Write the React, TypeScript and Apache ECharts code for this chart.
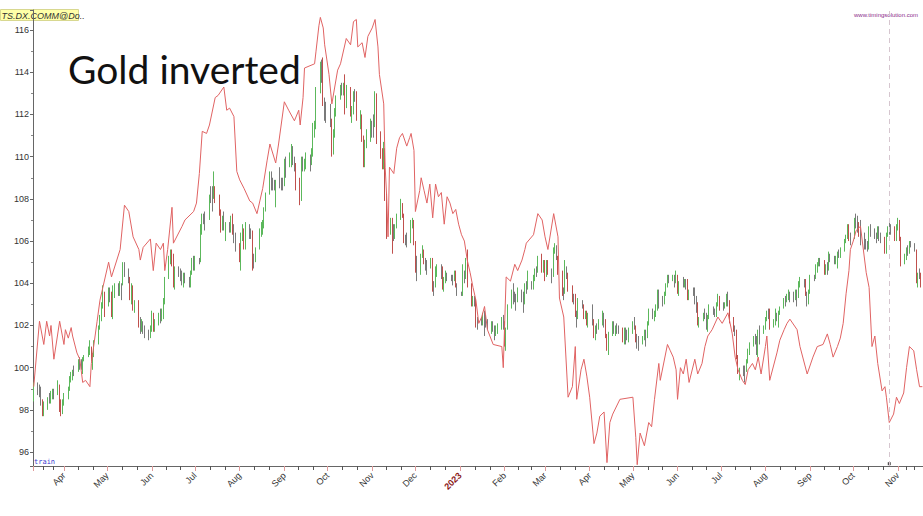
import React, { useEffect, useRef } from "react";
import * as echarts from "echarts";

// First trading day shown; bars follow on consecutive weekdays
const firstTradingDay = "2022-03-10";

// DX futures daily bars: [open, close, low, high], one row per week (Mon..Fri)
const dxyOHLC: number[][] = [
  [98.0,98.5,97.8,98.7],[98.5,99.1,98.4,99.3],
  [99.1,99.0,98.7,99.3],[99.0,98.8,98.6,99.2],[98.8,98.4,98.2,99.1],[98.4,97.8,97.7,98.5],[97.8,98.2,97.7,98.4],
  [98.2,98.5,98.0,98.6],[98.5,98.5,98.3,98.8],[98.5,98.6,98.3,98.9],[98.6,98.8,98.5,99.0],[98.8,98.8,98.5,99.0],
  [98.8,99.0,98.7,99.4],[99.0,98.4,97.9,99.2],[98.4,97.8,97.7,98.5],[97.8,98.3,97.8,98.5],[98.3,98.6,98.2,98.8],
  [98.6,99.0,98.5,99.1],[99.0,99.5,98.9,99.6],[99.5,99.6,99.3,99.8],[99.6,99.8,99.4,99.9],[99.8,99.8,99.6,100.1],
  [99.8,100.3,99.8,100.4],[100.3,100.3,99.9,100.5],[100.3,100.0,99.9,100.4],[100.0,100.4,99.7,100.5],[100.4,100.5,100.3,100.6],
  [100.5,100.9,100.5,101.0],[100.9,101.0,100.6,101.3],[101.0,100.4,100.3,101.0],[100.4,100.6,99.9,100.7],[100.6,101.1,100.5,101.3],
  [101.1,101.8,101.1,102.0],[101.8,102.3,101.8,102.5],[102.3,102.9,102.2,103.1],[102.9,103.6,102.8,103.9],[103.6,103.0,102.4,103.6],
  [103.0,103.7,102.9,103.8],[103.7,103.5,103.1,103.8],[103.5,102.5,102.4,103.6],[102.5,103.6,102.3,103.9],[103.6,103.7,103.3,104.0],
  [103.7,103.7,103.4,104.0],[103.7,103.9,103.4,104.1],[103.9,103.9,103.2,104.0],[103.9,104.8,103.9,105.0],[104.8,104.6,104.3,105.0],
  [104.6,104.2,104.0,104.7],[104.2,103.3,103.2,104.3],[103.3,103.8,103.0,104.0],[103.8,102.8,102.7,103.9],[102.8,103.1,102.6,103.2],
  [103.1,102.1,101.9,103.2],[102.1,101.9,101.6,102.4],[101.9,102.1,101.7,102.3],[102.1,101.8,101.6,102.2],[101.8,101.7,101.4,102.0],
  [101.7,101.5,101.3,101.8],[101.5,101.8,101.4,102.0],[101.8,102.5,101.7,102.7],[102.5,101.8,101.7,102.6],[101.8,102.1,101.7,102.3],
  [102.1,102.4,102.0,102.6],[102.4,102.3,102.1,102.8],[102.3,102.6,102.2,102.8],[102.6,103.2,102.3,103.3],[103.2,104.2,103.0,104.3],
  [104.2,105.1,104.2,105.3],[105.1,105.5,104.9,105.6],[105.5,105.0,104.8,105.6],[105.0,103.9,103.8,105.4],[103.9,104.6,103.7,104.8],
  [104.6,104.5,104.3,104.8],[104.5,104.4,104.1,104.7],[104.4,104.2,103.9,104.6],[104.2,104.4,103.8,104.5],[104.4,104.2,104.0,104.5],
  [104.2,103.9,103.8,104.3],[103.9,104.5,103.8,104.6],[104.5,105.1,104.4,105.2],[105.1,104.7,104.6,105.3],[104.7,105.1,104.6,105.3],
  [105.1,105.1,104.9,105.2],[105.1,106.5,105.0,106.8],[106.5,107.0,106.3,107.3],[107.0,107.0,106.8,107.3],[107.0,107.0,106.5,107.4],
  [107.0,108.1,107.0,108.2],[108.1,108.1,107.8,108.6],[108.1,108.0,107.4,108.6],[108.0,108.6,108.0,109.3],[108.6,108.0,107.8,108.6],
  [108.0,107.4,107.2,108.2],[107.4,106.7,106.4,107.5],[106.7,107.0,106.5,107.2],[107.0,106.6,106.5,107.4],[106.6,106.7,106.0,106.9],
  [106.7,106.5,106.4,106.9],[106.5,107.0,106.4,107.2],[107.0,106.4,106.3,107.3],[106.4,106.2,105.9,106.8],[106.2,105.9,105.5,106.4],
  [105.9,105.3,105.0,105.9],[105.3,106.3,104.6,106.4],[106.3,106.5,106.0,106.8],[106.5,105.7,105.6,106.6],[105.7,106.6,105.6,106.9],
  [106.6,106.4,106.1,106.8],[106.4,106.4,106.1,106.6],[106.4,105.2,104.6,106.5],[105.2,105.1,104.7,105.4],[105.1,105.6,105.0,105.7],
  [105.6,106.5,105.6,106.6],[106.5,106.6,106.2,106.9],[106.6,106.7,106.3,107.0],[106.7,107.5,106.6,107.6],[107.5,108.2,107.4,108.3],
  [108.2,109.0,108.2,109.3],[109.0,108.6,108.4,109.3],[108.6,108.6,108.4,109.0],[108.6,108.5,108.4,108.9],[108.5,108.8,107.6,108.9],
  [108.8,108.8,108.5,109.5],[108.8,108.8,108.4,109.0],[108.8,108.7,108.4,109.0],[108.7,109.7,108.6,109.9],[109.7,109.6,109.0,110.0],
  [109.6,109.9,109.5,110.2],[109.9,110.2,109.5,110.6],[110.2,109.8,109.6,110.5],[109.8,109.7,109.3,110.0],[109.7,109.0,108.4,109.7],
  [109.0,108.3,107.7,109.0],[108.3,109.8,107.9,110.0],[109.8,109.6,109.3,110.0],[109.6,109.7,109.3,109.9],[109.7,109.8,109.4,110.2],
  [109.8,109.6,109.3,110.1],[109.6,110.2,109.6,110.4],[110.2,111.2,110.0,111.6],[111.2,111.4,110.9,111.7],[111.4,113.2,111.3,113.3],
  [113.2,114.1,113.0,114.5],[114.1,114.1,113.5,114.6],[114.1,112.6,112.4,114.7],[112.6,112.2,111.7,112.8],[112.2,112.1,111.6,112.6],
  [112.1,111.7,111.4,112.5],[111.7,110.2,110.0,111.8],[110.2,111.1,110.1,111.3],[111.1,112.2,110.9,112.3],[112.2,112.8,111.9,112.9],
  [112.8,113.2,112.7,113.4],[113.2,113.2,112.9,113.5],[113.2,113.3,112.9,113.5],[113.3,112.4,112.0,113.9],[112.4,113.3,112.3,113.4],
  [113.3,112.0,111.9,113.3],[112.0,112.1,111.6,112.4],[112.1,113.0,112.0,113.1],[113.0,112.9,112.6,113.2],[112.9,111.9,111.7,113.1],
  [111.9,112.0,111.3,112.2],[112.0,110.9,110.7,112.0],[110.9,109.7,109.5,111.0],[109.7,110.6,109.5,110.8],[110.6,110.7,110.4,111.3],
  [110.7,111.5,110.7,111.8],[111.5,111.4,110.9,111.7],[111.4,111.4,110.9,112.0],[111.4,112.9,111.4,113.1],[112.9,110.8,110.6,113.0],
  [110.8,110.2,109.9,111.2],[110.2,109.6,109.4,110.4],[109.6,110.4,109.4,110.7],[110.4,108.2,107.9,110.4],[108.2,106.3,106.1,108.3],
  [106.3,106.9,106.3,107.1],[106.9,106.4,105.4,107.1],[106.4,106.3,106.0,106.8],[106.3,106.7,106.1,106.8],[106.7,107.0,106.6,107.3],
  [107.0,107.8,107.0,108.0],[107.8,107.2,107.1,107.8],[107.2,106.1,105.9,107.3],[106.1,106.0,105.8,106.3],[106.0,106.0,105.7,106.4],
  [106.0,106.6,105.9,107.0],[106.6,106.8,106.6,107.1],[106.8,105.9,105.8,107.0],[105.9,104.7,104.5,106.0],[104.7,104.5,104.1,105.3],
  [104.5,105.3,104.4,105.4],[105.3,105.6,105.2,105.8],[105.6,105.1,104.9,105.6],[105.1,104.8,104.6,105.2],[104.8,104.8,104.4,105.1],
  [104.8,105.1,104.7,105.2],[105.1,104.0,103.6,105.2],[104.0,103.8,103.4,104.1],[103.8,104.5,103.8,104.8],[104.5,104.7,104.3,104.9],
  [104.7,104.7,104.2,104.9],[104.7,103.7,103.7,104.8],[103.7,104.2,103.6,104.3],[104.2,104.4,104.0,104.6],[104.4,104.3,104.1,104.5],
  [104.3,104.3,104.1,104.4],[104.3,104.2,103.9,104.4],[104.2,104.5,104.1,104.6],[104.5,103.9,103.8,104.6],[103.9,103.5,103.4,104.0],
  [103.5,103.5,103.4,103.6],[103.5,104.5,103.4,104.9],[104.5,104.3,104.0,104.6],[104.3,105.1,104.2,105.2],[105.1,103.9,103.8,105.6],
  [103.9,103.0,102.9,104.0],[103.0,103.2,102.9,103.4],[103.2,103.2,102.9,103.4],[103.2,102.2,101.9,103.3],[102.2,102.2,101.8,102.4],
  [102.2,102.2,102.0,102.4],[102.2,102.4,102.0,102.6],[102.4,102.4,101.5,102.7],[102.4,102.1,101.9,102.5],[102.1,101.9,101.8,102.3],
  [101.9,102.1,101.6,102.2],[102.1,101.9,101.7,102.2],[101.9,101.6,101.3,102.0],[101.6,101.8,101.5,102.0],[101.8,101.9,101.6,102.1],
  [101.9,102.3,101.8,102.4],[102.3,102.1,101.8,102.5],[102.1,101.2,101.0,102.2],[101.2,101.8,100.8,101.9],[101.8,102.9,101.8,103.0],
  [102.9,103.6,102.8,103.7],[103.6,103.4,103.0,104.0],[103.4,103.4,103.1,103.6],[103.4,103.2,102.7,103.5],[103.2,103.6,103.1,103.8],
  [103.6,103.2,103.1,103.7],[103.2,103.2,102.6,103.6],[103.2,103.9,103.0,104.0],[103.9,103.8,103.5,104.1],[103.8,103.9,103.7,104.6],
  [103.9,103.9,103.7,104.1],[103.9,104.2,103.7,104.4],[104.2,104.6,104.1,104.7],[104.6,104.6,104.3,104.8],[104.6,105.2,104.5,105.3],
  [105.2,104.7,104.5,105.4],[104.7,104.9,104.5,105.1],[104.9,104.4,104.1,105.1],[104.4,105.0,104.3,105.1],[105.0,104.5,104.4,105.1],
  [104.5,104.3,104.0,104.7],[104.3,105.6,104.3,105.7],[105.6,105.7,105.4,105.9],[105.7,105.3,105.1,105.8],[105.3,104.6,104.4,105.3],
  [104.6,103.6,103.4,104.6],[103.6,103.6,103.2,103.8],[103.6,104.6,103.5,105.1],[104.6,104.4,104.2,104.8],[104.4,103.9,103.6,104.5],
  [103.9,103.3,103.1,103.9],[103.3,103.3,103.0,103.5],[103.3,102.5,102.4,103.5],[102.5,102.5,101.9,102.7],[102.5,103.1,102.3,103.3],
  [103.1,102.9,102.8,103.2],[102.9,102.4,102.3,103.0],[102.4,102.6,102.3,102.7],[102.6,102.1,102.0,102.7],[102.1,102.5,101.9,102.6],
  [102.5,102.2,102.0,103.0],[102.2,101.6,101.4,102.3],[101.6,101.9,101.3,102.0],[101.9,101.9,101.6,102.1],[101.9,102.1,101.8,102.3],
  [102.1,102.5,102.0,102.7],[102.5,102.2,101.9,102.6],[102.2,101.5,101.4,102.3],[101.5,101.0,100.8,101.6],[101.0,101.6,100.6,101.7],
  [101.6,102.1,101.5,102.2],[102.1,101.7,101.6,102.2],[101.7,101.9,101.5,102.0],[101.9,101.9,101.6,102.1],[101.9,101.8,101.6,102.0],
  [101.8,101.3,101.2,101.9],[101.3,101.8,101.1,101.9],[101.8,101.5,101.1,101.9],[101.5,101.5,101.3,101.8],[101.5,101.7,101.2,101.9],
  [101.7,102.1,101.6,102.2],[102.1,102.0,101.8,102.4],[102.0,101.4,101.2,102.0],[101.4,101.4,100.9,101.6],[101.4,101.2,100.8,101.5],
  [101.2,101.4,101.1,101.5],[101.4,101.6,101.3,101.8],[101.6,101.5,101.0,101.8],[101.5,102.1,101.4,102.2],[102.1,102.7,102.0,102.8],
  [102.7,102.4,102.3,102.8],[102.4,102.6,102.2,102.7],[102.6,102.9,102.4,103.0],[102.9,103.6,102.7,103.7],[103.6,103.2,102.8,103.7],
  [103.2,103.2,102.9,103.4],[103.2,103.5,103.0,103.6],[103.5,103.9,103.4,104.0],[103.9,104.3,103.8,104.4],[104.3,104.2,104.0,104.4],
  [104.2,104.3,104.1,104.4],[104.3,104.1,103.8,104.4],[104.1,104.3,104.0,104.6],[104.3,103.6,103.5,104.4],[103.6,104.0,103.4,104.1],
  [104.0,104.0,103.8,104.3],[104.0,104.1,103.8,104.2],[104.1,104.1,103.7,104.2],[104.1,103.3,103.2,104.2],[103.3,103.6,103.2,103.7],
  [103.6,103.6,103.4,103.8],[103.6,103.3,103.0,103.8],[103.3,103.0,102.6,103.4],[103.0,102.1,102.0,103.1],[102.1,102.3,101.9,102.4],
  [102.3,102.5,102.2,102.6],[102.5,102.5,102.3,102.8],[102.5,102.1,101.8,102.6],[102.1,102.4,101.7,102.5],[102.4,102.9,102.3,103.0],
  [102.9,102.7,102.5,102.9],[102.7,102.5,102.4,102.8],[102.5,103.0,102.4,103.1],[103.0,103.4,102.9,103.5],[103.4,102.9,102.7,103.4],
  [102.9,102.9,102.7,103.1],[102.9,103.0,102.8,103.1],[103.0,103.4,102.9,103.5],[103.4,103.1,102.9,103.6],[103.1,102.3,102.1,103.2],
  [102.3,101.8,101.7,102.4],[101.8,101.7,101.5,102.0],[101.7,100.5,100.4,101.8],[100.5,99.8,99.7,100.6],[99.8,99.9,99.4,100.0],
  [99.9,99.9,99.6,100.1],[99.9,99.9,99.3,100.1],[99.9,100.3,99.8,100.4],[100.3,100.8,100.2,100.9],[100.8,101.1,100.6,101.2],
  [101.1,101.4,101.0,101.5],[101.4,101.3,101.1,101.6],[101.3,100.9,100.6,101.5],[100.9,101.8,100.5,101.8],[101.8,101.7,101.1,102.0],
  [101.7,101.9,101.6,102.0],[101.9,102.3,101.8,102.4],[102.3,102.6,102.2,102.7],[102.6,102.6,102.3,102.8],[102.6,102.0,101.8,102.8],
  [102.0,102.1,101.9,102.3],[102.1,102.5,102.0,102.8],[102.5,102.5,102.2,102.6],[102.5,102.6,101.9,102.7],[102.6,102.8,102.5,102.9],
  [102.8,103.2,102.8,103.3],[103.2,103.2,102.9,103.4],[103.2,103.4,103.1,103.5],[103.4,103.6,103.2,103.7],[103.6,103.4,103.1,103.6],
  [103.4,103.3,103.1,103.6],[103.3,103.5,103.2,103.7],[103.5,103.4,102.9,103.7],[103.4,104.0,103.3,104.1],[104.0,104.1,103.8,104.3],
  [104.1,104.0,103.8,104.2],[104.0,103.5,103.4,104.2],[103.5,103.1,102.9,103.6],[103.1,103.6,103.0,103.7],[103.6,104.3,103.5,104.4],
  [104.3,104.2,104.1,104.4],[104.2,104.8,104.2,104.9],[104.8,104.9,104.5,105.0],[104.9,105.1,104.8,105.2],[105.1,105.1,104.8,105.2],
  [105.1,104.6,104.4,105.1],[104.6,104.7,104.4,104.9],[104.7,104.7,104.4,105.0],[104.7,105.4,104.6,105.5],[105.4,105.3,105.0,105.4],
  [105.3,105.1,104.9,105.3],[105.1,105.2,104.9,105.3],[105.2,105.4,104.7,105.5],[105.4,105.4,105.2,105.6],[105.4,105.6,105.2,105.7],
  [105.6,106.0,105.5,106.1],[106.0,106.2,105.9,106.3],[106.2,106.7,106.1,106.8],[106.7,106.2,106.0,106.8],[106.2,106.2,105.8,106.4],
  [106.2,107.0,106.1,107.1],[107.0,107.0,106.6,107.3],[107.0,106.8,106.4,107.2],[106.8,106.3,106.2,106.9],[106.3,106.0,105.8,107.0],
  [106.0,106.0,105.6,106.4],[106.0,105.8,105.6,106.1],[105.8,105.7,105.5,106.0],[105.7,106.6,105.6,106.7],[106.6,106.6,106.2,106.8],
  [106.6,106.2,106.1,106.6],[106.2,106.2,105.9,106.4],[106.2,106.6,106.1,106.7],[106.6,106.2,106.0,106.7],[106.2,106.2,105.9,106.4],
  [106.2,105.5,105.4,106.2],[105.5,106.3,105.4,106.4],[106.3,106.6,106.2,106.7],[106.6,106.6,106.3,106.9],[106.6,106.6,106.3,106.8],
  [106.6,106.1,106.0,106.7],[106.1,106.7,106.0,106.8],[106.7,106.9,106.5,107.1],[106.9,106.2,106.0,107.0],[106.2,105.0,104.8,106.2],
  [105.0,105.2,104.9,105.4],[105.2,105.6,105.1,105.7],[105.6,105.5,105.3,105.8],[105.5,105.9,105.4,106.0],[105.9,105.9,105.7,106.0],
  [105.9,105.6,105.5,105.9],[105.6,104.1,104.0,105.6],[104.1,104.4,103.8,104.5],[104.4,104.4,104.2,104.7],[104.4,103.9,103.8,104.5],
];

// Gold price, inverted and rescaled onto the dollar-index scale
const goldInverted: [string, number][] = [
  ["2022-03-11",99.1],["2022-03-15",102.2],["2022-03-18",101.1],["2022-03-20",102.2],["2022-03-22",101.5],["2022-03-23",102.0],["2022-03-25",100.4],["2022-03-29",102.2],
  ["2022-04-01",101.1],["2022-04-02",101.8],["2022-04-04",101.4],["2022-04-06",101.9],["2022-04-07",101.5],["2022-04-10",100.7],["2022-04-12",100.4],["2022-04-14",99.3],["2022-04-16",99.4],["2022-04-19",99.1],["2022-04-20",100.2],["2022-04-24",102.2],["2022-04-26",103.2],["2022-04-28",103.8],
  ["2022-05-02",105.0],["2022-05-04",104.3],["2022-05-10",105.6],["2022-05-13",107.7],["2022-05-16",107.4],["2022-05-19",106.2],["2022-05-23",105.6],["2022-05-24",105.1],["2022-05-26",105.7],["2022-05-31",106.1],
  ["2022-06-02",104.6],["2022-06-04",105.9],["2022-06-07",105.6],["2022-06-09",105.9],["2022-06-10",104.6],["2022-06-12",105.6],["2022-06-15",107.6],["2022-06-16",105.9],["2022-06-22",106.7],["2022-06-24",107.0],["2022-06-30",107.4],
  ["2022-07-02",107.8],["2022-07-04",109.2],["2022-07-06",111.2],["2022-07-09",111.1],["2022-07-11",111.5],["2022-07-15",112.8],["2022-07-17",112.9],["2022-07-21",113.3],["2022-07-23",112.2],["2022-07-25",112.3],["2022-07-28",111.9],["2022-07-30",109.3],
  ["2022-08-01",108.9],["2022-08-04",108.5],["2022-08-08",107.9],["2022-08-10",107.8],["2022-08-13",107.3],["2022-08-15",107.9],["2022-08-17",108.5],["2022-08-20",109.8],["2022-08-22",110.6],["2022-08-26",109.7],["2022-08-28",110.6],
  ["2022-09-01",112.6],["2022-09-04",112.2],["2022-09-08",111.7],["2022-09-11",112.2],["2022-09-12",111.5],["2022-09-14",112.8],["2022-09-15",114.2],["2022-09-22",114.4],["2022-09-23",115.0],["2022-09-25",116.2],["2022-09-26",116.6],["2022-09-28",116.1],["2022-09-29",115.3],
  ["2022-10-02",113.9],["2022-10-04",112.5],["2022-10-06",113.3],["2022-10-08",114.1],["2022-10-10",114.4],["2022-10-14",115.6],["2022-10-17",115.3],["2022-10-19",116.4],["2022-10-21",116.5],["2022-10-22",115.2],["2022-10-25",115.4],["2022-10-27",114.7],["2022-10-29",115.7],
  ["2022-11-01",116.1],["2022-11-03",116.5],["2022-11-05",115.2],["2022-11-06",113.9],["2022-11-09",112.5],["2022-11-10",109.5],["2022-11-11",108.2],["2022-11-12",106.2],["2022-11-13",109.5],["2022-11-16",109.2],["2022-11-18",110.4],["2022-11-20",110.9],["2022-11-22",111.1],["2022-11-25",110.5],["2022-11-27",110.9],["2022-11-28",111.1],["2022-11-30",110.3],
  ["2022-12-01",107.4],["2022-12-04",108.4],["2022-12-05",109.0],["2022-12-07",108.4],["2022-12-09",107.8],["2022-12-11",108.7],["2022-12-13",107.1],["2022-12-15",108.7],["2022-12-17",108.1],["2022-12-19",108.3],["2022-12-21",106.8],["2022-12-23",108.1],["2022-12-25",107.8],["2022-12-27",107.3],["2022-12-29",107.5],["2022-12-31",106.8],
  ["2023-01-02",106.3],["2023-01-04",106.0],["2023-01-06",105.1],["2023-01-08",104.5],["2023-01-10",103.8],["2023-01-12",103.2],["2023-01-14",102.1],["2023-01-16",102.4],["2023-01-18",102.9],["2023-01-20",101.8],["2023-01-24",101.1],["2023-01-30",101.0],["2023-01-31",100.0],
  ["2023-02-02",104.3],["2023-02-05",104.1],["2023-02-08",104.9],["2023-02-10",104.6],["2023-02-13",105.1],["2023-02-15",105.6],["2023-02-16",105.9],["2023-02-21",106.3],["2023-02-24",107.3],["2023-02-27",107.0],
  ["2023-03-01",106.2],["2023-03-03",105.6],["2023-03-07",107.3],["2023-03-10",106.2],["2023-03-11",103.3],["2023-03-14",102.4],["2023-03-17",98.6],["2023-03-20",99.1],["2023-03-22",101.0],["2023-03-23",98.5],["2023-03-26",99.9],["2023-03-28",100.4],["2023-03-30",99.6],
  ["2023-04-01",98.6],["2023-04-04",96.4],["2023-04-06",96.9],["2023-04-08",97.7],["2023-04-11",97.9],["2023-04-13",95.5],["2023-04-15",97.4],["2023-04-17",97.8],["2023-04-22",98.5],
  ["2023-05-01",98.6],["2023-05-03",96.7],["2023-05-04",95.4],["2023-05-06",96.9],["2023-05-09",96.3],["2023-05-12",97.4],["2023-05-14",97.2],["2023-05-16",98.5],["2023-05-19",100.2],["2023-05-20",99.4],["2023-05-25",101.1],["2023-05-27",100.8],["2023-05-29",100.5],["2023-05-31",99.9],
  ["2023-06-01",98.5],["2023-06-03",100.0],["2023-06-05",99.7],["2023-06-07",100.4],["2023-06-09",99.3],["2023-06-13",100.4],["2023-06-15",99.7],["2023-06-18",100.2],["2023-06-20",101.0],["2023-06-22",101.5],["2023-06-25",101.8],["2023-06-29",102.4],
  ["2023-07-02",102.1],["2023-07-06",102.6],["2023-07-09",101.6],["2023-07-11",100.5],["2023-07-13",99.9],["2023-07-16",99.4],["2023-07-18",99.2],["2023-07-20",99.9],["2023-07-23",100.2],["2023-07-25",99.9],["2023-07-27",100.5],["2023-07-29",99.7],
  ["2023-08-01",101.0],["2023-08-02",101.5],["2023-08-04",99.4],["2023-08-09",100.7],["2023-08-11",101.3],["2023-08-14",101.8],["2023-08-16",102.1],["2023-08-18",102.3],["2023-08-23",101.8],["2023-08-25",101.0],["2023-08-30",99.7],
  ["2023-09-03",100.5],["2023-09-06",101.0],["2023-09-10",101.1],["2023-09-13",101.6],["2023-09-15",101.1],["2023-09-17",100.5],["2023-09-20",101.0],["2023-09-22",101.4],["2023-09-24",102.1],["2023-09-26",103.5],["2023-09-28",104.6],["2023-09-29",105.6],
  ["2023-10-01",106.0],["2023-10-03",106.5],["2023-10-06",106.7],["2023-10-10",104.5],["2023-10-12",103.8],["2023-10-14",101.0],["2023-10-16",101.5],["2023-10-18",100.2],["2023-10-21",98.9],["2023-10-23",99.1],["2023-10-24",98.6],["2023-10-26",97.4],["2023-10-29",97.8],["2023-10-31",98.6],
  ["2023-11-02",98.3],["2023-11-05",98.8],["2023-11-07",100.0],["2023-11-09",101.0],["2023-11-12",100.8],["2023-11-14",99.9],["2023-11-16",99.1],["2023-11-18",99.1],
];

const monthNames = ["Jan","Feb","Mar","Apr","May","Jun","Jul","Aug","Sep","Oct","Nov","Dec"];
const cursorDate = "2023-10-26";
const cursorMarkerValue = 95.45;
const xRange = { min: [2022, 2, 10, 12], max: [2023, 10, 18, 10] };
const yRange = { min: 95.34, max: 116.95 };
const symbolLabel = "TS.DX.COMM@Do..";
const titleText = "Gold inverted";
const watermark = "www.timingsolution.com";
const bottomTag = "train";

function pad(n: number) { return n < 10 ? "0" + n : String(n); }
function fmt(d: Date) { return d.getFullYear() + "-" + pad(d.getMonth() + 1) + "-" + pad(d.getDate()); }
function tradingDates(start: string, n: number): string[] {
  const [y, m, d] = start.split("-").map(Number);
  const dt = new Date(y, m - 1, d);
  const out: string[] = [];
  while (out.length < n) {
    const wd = dt.getDay();
    if (wd !== 0 && wd !== 6) out.push(fmt(dt));
    dt.setDate(dt.getDate() + 1);
  }
  return out;
}

export default function App() {
  const ref = useRef<HTMLDivElement>(null);
  useEffect(() => {
    if (!ref.current) return;
    const chart = echarts.init(ref.current, undefined, { renderer: "svg" });
    const dates = tradingDates(firstTradingDay, dxyOHLC.length);
    const candleData = dxyOHLC.map((b, i) => {
      const [o, c] = b;
      const col = c > o ? "#5cb85c" : (o - c >= 0.5 ? "#c0504d" : "#7a7a7a");
      return {
        value: [dates[i], b[0], b[1], b[2], b[3]],
        itemStyle: { color: col, color0: col, borderColor: col, borderColor0: col },
      };
    });
    const mn = xRange.min, mx = xRange.max;
    const xMin = new Date(mn[0], mn[1], mn[2], mn[3]).getTime();
    const xMax = new Date(mx[0], mx[1], mx[2], mx[3]).getTime();
    const day = 86400000;
    const font = "'Liberation Sans', Arial, sans-serif";

    chart.setOption({
      animation: false,
      backgroundColor: "#ffffff",
      grid: { left: 33, right: 0, top: 10, bottom: 50, containLabel: false },
      xAxis: {
        type: "time",
        min: xMin,
        max: xMax,
        minInterval: 28 * day,
        maxInterval: 31 * day,
        splitLine: { show: false },
        axisLine: { lineStyle: { color: "#666", width: 1 } },
        axisTick: { show: true, length: 5, lineStyle: { color: "#e09a9a" } },
        minorTick: { show: true, splitNumber: 3, length: 4, lineStyle: { color: "#555" } },
        axisLabel: {
          rotate: 45,
          fontSize: 9,
          fontFamily: font,
          color: "#333",
          margin: 8,
          hideOverlap: false,
          formatter: (v: number) => {
            const d = new Date(v);
            if (d.getMonth() === 0) return "{yr|" + d.getFullYear() + "}";
            return monthNames[d.getMonth()];
          },
          rich: { yr: { color: "#8b1a1a", fontSize: 9, fontWeight: "bold", fontFamily: font } },
        },
      },
      yAxis: {
        type: "value",
        min: yRange.min,
        max: yRange.max,
        splitNumber: 10,
        splitLine: { show: false },
        axisLine: { show: true, lineStyle: { color: "#666", width: 1 } },
        axisTick: { show: true, length: 3, lineStyle: { color: "#666" } },
        minorTick: { show: true, splitNumber: 2, length: 2, lineStyle: { color: "#888" } },
        axisLabel: {
          fontSize: 9,
          fontFamily: font,
          color: "#333",
          margin: 4,
          showMinLabel: false,
          showMaxLabel: false,
          formatter: (v: number) => {
            const r = Math.round(v);
            return Math.abs(v - r) < 1e-6 && r % 2 === 0 ? String(r) : "";
          },
        },
      },
      series: [
        {
          type: "candlestick",
          data: candleData,
          encode: { x: 0, y: [1, 2, 3, 4] },
          barWidth: 1,
          itemStyle: { borderWidth: 1 },
          markLine: {
            silent: true,
            symbol: ["none", "none"],
            label: { show: false },
            lineStyle: { color: "#d6c6cf", type: [5, 4], width: 1 },
            data: [{ xAxis: cursorDate }],
          },
        },
        {
          type: "line",
          data: goldInverted,
          showSymbol: false,
          symbol: "none",
          lineStyle: { color: "#e06363", width: 1 },
          z: 3,
        },
        {
          type: "scatter",
          data: [[cursorDate, cursorMarkerValue]],
          symbol: "rect",
          symbolSize: 3,
          itemStyle: { color: "#222" },
          z: 4,
        },
      ],
      graphic: [
        {
          type: "group",
          left: 0,
          top: 9,
          children: [
            { type: "rect", shape: { x: 0, y: 0, width: 78, height: 11 }, style: { fill: "#ffffa8", stroke: "#d8d890", lineWidth: 1 } },
            { type: "text", style: { x: 1, y: 1.5, text: symbolLabel, font: "italic 9px 'Liberation Sans', Arial, sans-serif", fill: "#333" } },
          ],
        },
        {
          type: "text",
          left: 68,
          top: 49,
          style: { text: titleText, font: "39px Lato, 'Open Sans', sans-serif", fill: "#111" },
        },
        {
          type: "text",
          right: 5,
          top: 12,
          style: { text: watermark, font: "6px 'Liberation Sans', Arial, sans-serif", fill: "#8a2a8a" },
        },
        {
          type: "text",
          left: 34,
          top: 458,
          style: { text: bottomTag, font: "7px 'DejaVu Sans Mono', monospace", fill: "#3a3ad0" },
        },
      ],
    });
    return () => chart.dispose();
  }, []);
  return <div ref={ref} style={{ position: "fixed", left: 0, top: 0, width: 923, height: 516 }} />;
}
